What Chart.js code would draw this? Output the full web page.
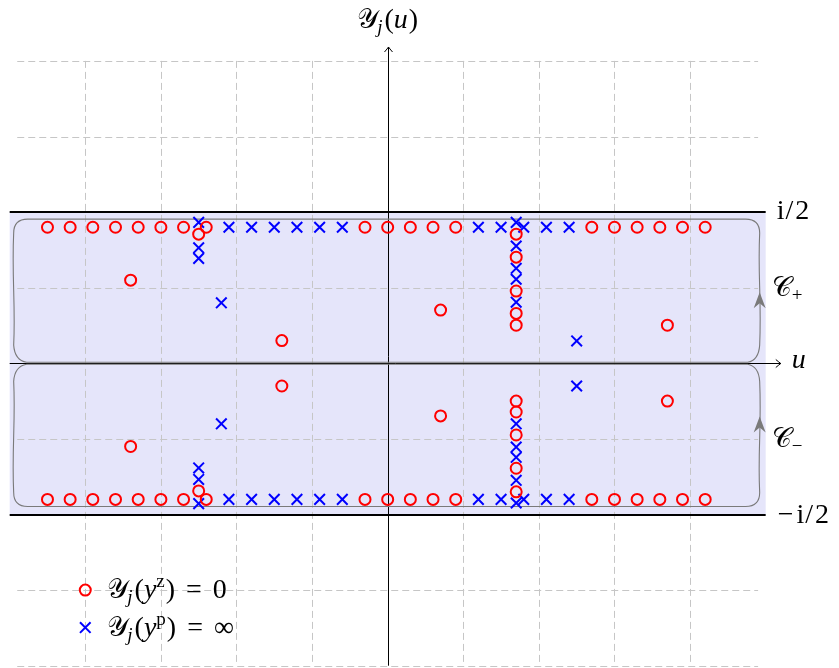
<!DOCTYPE html>
<html><head><meta charset="utf-8">
<script src="https://cdn.jsdelivr.net/npm/chart.js@4.4.1/dist/chart.umd.min.js"></script>
<style>html,body{margin:0;padding:0;background:#fff;overflow:hidden}</style>
</head><body>
<canvas id="c" width="839" height="668"></canvas>
<script>
// ---------- data (u = real part, v = imaginary part) ----------
const zeroRowU = [-4.5,-4.2,-3.9,-3.6,-3.3,-3.0,-2.7,-2.4,-0.3,0,0.3,0.6,0.9,2.7,3.0,3.3,3.6,3.9,4.2];
const zeroRowV = [0.45,-0.45];
const zeroColU = [-2.5,-2.5,1.7,1.7,1.7,1.7,1.7,1.7,1.7,1.7,1.7,1.7];
const zeroColV = [0.427,-0.422,0.427,0.351,0.239,0.165,0.126,-0.125,-0.161,-0.237,-0.347,-0.425];
const zeroFreeU = [-3.4,-1.4,0.7,3.7,-3.4,-1.4,0.7,3.7];
const zeroFreeV = [0.275,0.075,0.176,0.126,-0.275,-0.075,-0.174,-0.125];

const poleRowU = [-2.1,-1.8,-1.5,-1.2,-0.9,-0.6,1.2,1.5,1.8,2.1,2.4];
const poleRowV = [0.45,-0.45];
const poleColU = [-2.5,-2.5,-2.5,-2.5,-2.5,-2.5,1.7,1.7,1.7,1.7,1.7,1.7,1.7,1.7,1.7,1.7];
const poleColV = [0.466,0.382,0.347,-0.346,-0.384,-0.464,0.466,0.388,0.314,0.278,0.202,-0.200,-0.277,-0.311,-0.387,-0.462];
const poleFreeU = [-2.2,2.5,-2.2,2.5];
const poleFreeV = [0.200,0.074,-0.200,-0.075];

const gridU = [-4,-3,-2,-1,0,1,2,3,4];
const gridV = [-1,-0.75,-0.5,-0.25,0,0.25,0.5,0.75,1];

// ---------- build point lists ----------
function rows(us, vs){ const out=[]; for(const v of vs) for(const u of us) out.push({x:u,y:v}); return out; }
function pairs(us, vs){ return us.map((u,i)=>({x:u,y:vs[i]})); }
const zeros = rows(zeroRowU, zeroRowV).concat(pairs(zeroColU, zeroColV), pairs(zeroFreeU, zeroFreeV));
const poles = rows(poleRowU, poleRowV).concat(pairs(poleColU, poleColV), pairs(poleFreeU, poleFreeV));

// ---------- text helper ----------
const RM  = "28px 'Liberation Serif', serif";
const IT  = "italic 28px 'Liberation Serif', serif";
const SM  = "italic 19px 'Liberation Serif', serif";
const SMR = "19px 'Liberation Serif', serif";
const CAL = "27px 'DejaVu Serif','DejaVu Sans','Noto Sans',serif";
function rich(ctx, x, y, parts, align){
  let w = 0;
  for (const p of parts){ ctx.font = p.f; p.w = ctx.measureText(p.t).width + (p.dx||0) + (p.ax||0); w += p.w; }
  let cx = align === 'center' ? x - w/2 : x;
  for (const p of parts){ ctx.font = p.f; ctx.fillText(p.t, cx + (p.dx||0), y + (p.dy||0)); cx += p.w; }
}
function arrowOpen(ctx, x, y, dir){
  ctx.beginPath();
  if (dir === 'right'){
    ctx.moveTo(x-5, y-4); ctx.quadraticCurveTo(x-1.5, y-1, x, y); ctx.quadraticCurveTo(x-1.5, y+1, x-5, y+4);
  } else {
    ctx.moveTo(x-4, y+5); ctx.quadraticCurveTo(x-1, y+1.5, x, y); ctx.quadraticCurveTo(x+1, y+1.5, x+4, y+5);
  }
  ctx.stroke();
}
function stealthUp(ctx, x, y){
  ctx.beginPath();
  ctx.moveTo(x, y); ctx.lineTo(x+6, y+16); ctx.lineTo(x, y+11); ctx.lineTo(x-6, y+16); ctx.closePath(); ctx.fill();
}

const deco = {
  id: 'deco',
  beforeDatasetsDraw(chart){
    const {ctx, scales:{x, y}} = chart;
    const X = v => x.getPixelForValue(v), Y = v => y.getPixelForValue(v);
    ctx.save();
    // band
    ctx.fillStyle = 'rgb(229,229,250)';
    ctx.fillRect(X(-5), Y(0.5), X(5)-X(-5), Y(-0.5)-Y(0.5));
    // grid
    ctx.strokeStyle = '#c6c6c6'; ctx.lineWidth = 1; ctx.setLineDash([7,4]);
    for (const g of gridU){ const px = Math.round(X(g))+0.5; ctx.beginPath(); ctx.moveTo(px, Y(1)); ctx.lineTo(px, Y(-1)); ctx.stroke(); }
    for (const g of gridV){ const py = Math.round(Y(g))+0.5; ctx.beginPath(); ctx.moveTo(X(-4.9), py); ctx.lineTo(X(4.9), py); ctx.stroke(); }
    ctx.setLineDash([]);
    // band edges
    ctx.strokeStyle = '#000'; ctx.lineWidth = 2;
    for (const v of [0.5,-0.5]){ const py = Math.round(Y(v)); ctx.beginPath(); ctx.moveTo(X(-5), py); ctx.lineTo(X(5), py); ctx.stroke(); }
    // axes
    ctx.lineWidth = 1; ctx.strokeStyle = '#000';
    const ax = Math.round(X(0))+0.5, ay = Math.round(Y(0))+0.5;
    ctx.beginPath(); ctx.moveTo(ax, Y(-1)); ctx.lineTo(ax, Y(1.046)); ctx.stroke();
    arrowOpen(ctx, ax, Y(1.046), 'up');
    ctx.beginPath(); ctx.moveTo(X(-5), ay); ctx.lineTo(X(5.2), ay); ctx.stroke();
    arrowOpen(ctx, X(5.2), ay, 'right');
    // contours
    ctx.strokeStyle = '#7a7a7a'; ctx.fillStyle = '#7a7a7a'; ctx.lineWidth = 1.1;
    const xl = X(-5)+4, xr = X(5)-6, yb = Y(0);
    const contour = (yt, e) => {
      const d = Math.sign(e - yt); // direction from top edge toward the cusp line
      const h = e - yt;
      ctx.beginPath();
      ctx.moveTo(xl+13, e);
      ctx.lineTo(xr-12, e);
      ctx.quadraticCurveTo(xr-1, e - d*2, xr, e - h*0.12);
      ctx.bezierCurveTo(xr+2, e - h*0.45, xr-2, e - h*0.6, xr, yt + d*14);
      ctx.quadraticCurveTo(xr, yt, xr-14, yt);
      ctx.lineTo(xl+14, yt);
      ctx.quadraticCurveTo(xl, yt, xl, yt + d*14);
      ctx.bezierCurveTo(xl-2, e - h*0.6, xl+2, e - h*0.4, xl, e - h*0.12);
      ctx.quadraticCurveTo(xl+1, e - d*2, xl+13, e);
      ctx.stroke();
    };
    contour(Y(0.5)+7, yb-1);
    contour(Y(-0.5)-8, yb+1);
    stealthUp(ctx, xr, Y(0.235));
    stealthUp(ctx, xr, Y(-0.176));
    // labels
    ctx.fillStyle = '#000'; ctx.textBaseline = 'alphabetic'; ctx.textAlign = 'left';
    rich(ctx, X(0), Y(1)-33, [{t:'\u{1D4B4}', f:CAL},{t:'j', f:SM, dy:5, dx:-1},{t:'(', f:RM, dx:2},{t:'u', f:IT},{t:')', f:RM, dx:1}], 'center');
    rich(ctx, X(5)+11, Y(0.5)+7, [{t:'i', f:RM},{t:'/', f:RM, dx:1, ax:1},{t:'2', f:RM, dx:1}]);
    rich(ctx, X(5)+12, Y(-0.5)+8, [{t:'\u2212', f:RM, ax:3},{t:'i', f:RM},{t:'/', f:RM, dx:1, ax:1},{t:'2', f:RM, dx:1}]);
    rich(ctx, X(5.2)+11, Y(0)+5, [{t:'u', f:IT}]);
    rich(ctx, X(5)+6, Y(0.25)+8, [{t:'\u{1D49E}', f:CAL},{t:'+', f:SMR, dy:5}]);
    rich(ctx, X(5)+6, Y(-0.25)+8, [{t:'\u{1D49E}', f:CAL},{t:'\u2212', f:SMR, dy:5}]);
    // legend
    ctx.fillStyle = 'rgba(0,0,0,0)';
    ctx.strokeStyle = 'red'; ctx.lineWidth = 2;
    Chart.helpers.drawPoint(ctx, {pointStyle:'circle', radius:5.5, borderWidth:2}, X(-4), Y(-0.75));
    ctx.strokeStyle = 'blue';
    Chart.helpers.drawPoint(ctx, {pointStyle:'crossRot', radius:7.5, borderWidth:2}, X(-4), Y(-0.874));
    ctx.fillStyle = '#000';
    rich(ctx, X(-4)+22, Y(-0.75)+8, [{t:'\u{1D4B4}', f:CAL},{t:'j', f:SM, dy:5, dx:-1},{t:'(', f:RM, dx:2},{t:'y', f:IT},{t:'z', f:SMR, dy:-11},{t:')', f:RM, dx:1},{t:'=', f:RM, dx:11, ax:11},{t:'0', f:RM}]);
    rich(ctx, X(-4)+22, Y(-0.874)+8, [{t:'\u{1D4B4}', f:CAL},{t:'j', f:SM, dy:5, dx:-1},{t:'(', f:RM, dx:2},{t:'y', f:IT},{t:'p', f:SMR, dy:-11},{t:')', f:RM, dx:1},{t:'=', f:RM, dx:11, ax:11},{t:'\u221E', f:RM}]);
    ctx.restore();
  }
};

new Chart(document.getElementById('c'), {
  type: 'scatter',
  data: { datasets: [
    { label:'zeros', data: zeros, pointStyle:'circle', pointRadius:5.5, pointBorderWidth:2, borderColor:'red', backgroundColor:'rgba(0,0,0,0)', pointHoverRadius:5.5 },
    { label:'poles', data: poles, pointStyle:'crossRot', pointRadius:7.5, pointBorderWidth:2, borderColor:'blue', backgroundColor:'blue', pointHoverRadius:7.5 }
  ]},
  options: {
    responsive:false, animation:false, devicePixelRatio:1,
    layout:{padding:0, autoPadding:false},
    clip:false,
    scales:{
      x:{type:'linear', min:-5.128, max:5.970, display:false},
      y:{type:'linear', min:-1.0076, max:1.2014, display:false}
    },
    plugins:{ legend:{display:false}, tooltip:{enabled:false} },
    events:[]
  },
  plugins:[deco]
});
</script>
</body></html>
